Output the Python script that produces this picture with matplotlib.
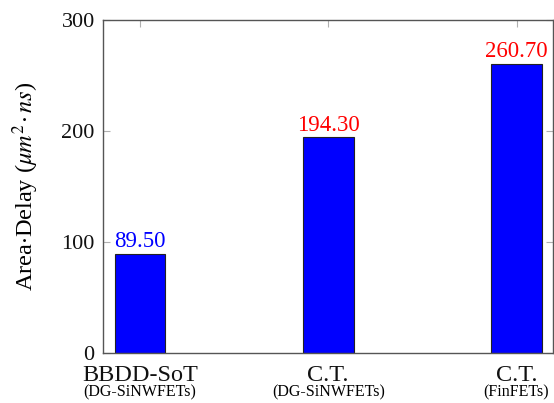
import matplotlib
matplotlib.use("Agg")
import matplotlib.pyplot as plt
import matplotlib.transforms as mtransforms

plt.rcParams['font.family'] = ['Liberation Serif', 'DejaVu Serif']
plt.rcParams['mathtext.fontset'] = 'stix'

# data
designs = ["BBDD-SoT", "C.T.", "C.T."]
technologies = ["(DG-SiNWFETs)", "(DG-SiNWFETs)", "(FinFETs)"]
area_delay = [89.50, 194.30, 260.70]
label_colors = ["blue", "red", "red"]
y_ticks = [0, 100, 200, 300]

fig = plt.figure(figsize=(5.54, 4.03), dpi=100)
ax = fig.add_axes([0.186, 0.124, 0.813, 0.826])

pos = list(range(len(designs)))
ax.bar(pos, area_delay, width=0.27, color="#0000ff", edgecolor="#222222", linewidth=0.8, zorder=2)

for x, v, c in zip(pos, area_delay, label_colors):
    ax.annotate(f"{v:.2f}", (x, v), xytext=(0, 1), textcoords="offset points",
                ha="center", va="bottom", color=c, fontsize=16.5)

ax.set_xlim(-0.196, 2.196)
ax.set_ylim(0, 300)
ax.set_yticks(y_ticks)
ax.set_yticklabels([str(t) for t in y_ticks], fontsize=16)
ax.set_xticks(pos)
ax.set_xticklabels(designs, fontsize=17.5)

# second line of each category label, smaller
trans = mtransforms.blended_transform_factory(ax.transData, ax.transAxes)
for x, t in zip(pos, technologies):
    ax.text(x, -0.130, t, transform=trans, ha="center", va="baseline", fontsize=11.5)

ax.tick_params(axis="both", direction="in", length=5, width=0.8, color="#b0b0b0",
               top=True, right=True, labelcolor="#111111")
ax.tick_params(axis="x", pad=8.5)
ax.tick_params(axis="y", pad=6)
for s in ax.spines.values():
    s.set_color("#555555")
    s.set_linewidth(1.0)

ax.set_ylabel(r"Area$\cdot$Delay ($\mu m^2\!\cdot ns$)", fontsize=17.5, labelpad=15)

fig.savefig("out.png", dpi=100)
